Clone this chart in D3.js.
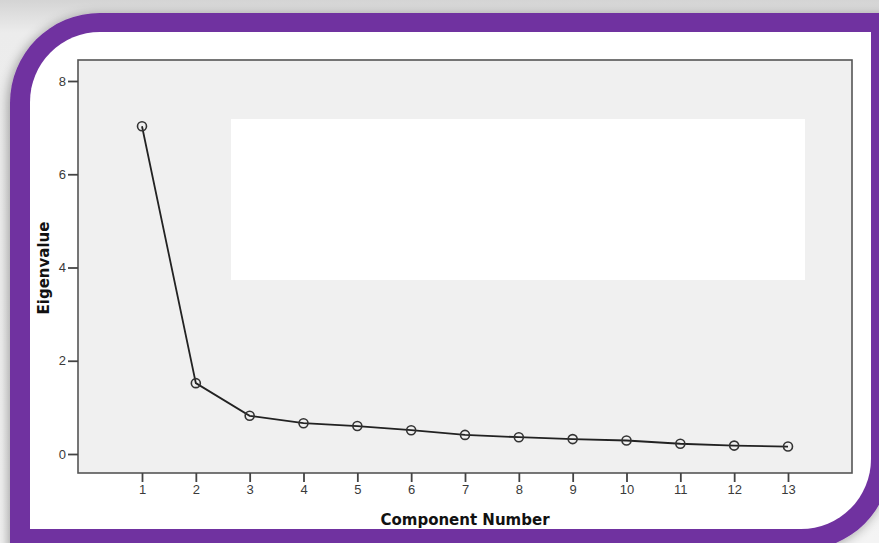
<!DOCTYPE html>
<html>
<head>
<meta charset="utf-8">
<script src="https://cdn.jsdelivr.net/npm/d3@7"></script>
<style>
  html, body { margin: 0; padding: 0; background: #ffffff; }
  svg { display: block; }
</style>
</head>
<body>
<svg id="chart" width="879" height="543"></svg>
<script>
// ---- data ----
const components = [1, 2, 3, 4, 5, 6, 7, 8, 9, 10, 11, 12, 13];
const eigenvalues = [7.03, 1.52, 0.82, 0.66, 0.60, 0.51, 0.41, 0.36, 0.32, 0.29, 0.22, 0.18, 0.16];
const yTicks = [0, 2, 4, 6, 8];
const xLabel = "Component Number";
const yLabel = "Eigenvalue";

const svg = d3.select("#chart");
const W = 879, H = 543;

// ---- background & frame ----
const defs = svg.append("defs");
const bg = defs.append("linearGradient").attr("id", "bg").attr("x1", 0).attr("y1", 0).attr("x2", 0).attr("y2", 1);
bg.append("stop").attr("offset", 0).attr("stop-color", "#d4d4d4");
bg.append("stop").attr("offset", 0.06).attr("stop-color", "#ececec");
bg.append("stop").attr("offset", 1).attr("stop-color", "#f4f4f4");
const sh = defs.append("filter").attr("id", "shadow").attr("x", -0.1).attr("y", -0.1).attr("width", 1.2).attr("height", 1.2);
sh.append("feGaussianBlur").attr("in", "SourceAlpha").attr("stdDeviation", 6);
sh.append("feOffset").attr("dx", -2).attr("dy", 2).attr("result", "b");
sh.append("feComponentTransfer").append("feFuncA").attr("type", "linear").attr("slope", 0.35);
const m = sh.append("feMerge");
m.append("feMergeNode");
m.append("feMergeNode").attr("in", "SourceGraphic");

svg.append("rect").attr("width", W).attr("height", H).attr("fill", "url(#bg)");

function frame(x0, y0, x1, y1, r) {
  return `M${x0},${y0 + r} A${r},${r} 0 0 1 ${x0 + r},${y0} L${x1},${y0} L${x1},${y1 - r} A${r},${r} 0 0 1 ${x1 - r},${y1} L${x0},${y1} Z`;
}
svg.append("path").attr("d", frame(10, 13, 891, 550, 90)).attr("fill", "#7030a0").attr("filter", "url(#shadow)");
svg.append("path").attr("d", frame(30, 32, 871, 529, 70)).attr("fill", "#ffffff");

// ---- plot ----
const plot = { left: 78, right: 852, top: 60, bottom: 473 };
const x = d3.scaleLinear().domain([1, 13]).range([142, 788]);
const y = d3.scaleLinear().domain([0, 8]).range([454, 81]);

svg.append("rect")
  .attr("x", plot.left).attr("y", plot.top)
  .attr("width", plot.right - plot.left).attr("height", plot.bottom - plot.top)
  .attr("fill", "#f0f0f0").attr("stroke", "#555").attr("stroke-width", 1.6);

// y axis
const yAxis = d3.axisLeft(y).tickValues(yTicks).tickSize(10).tickPadding(2).tickFormat(d3.format("d"));
const gy = svg.append("g").attr("transform", `translate(${plot.left},0)`).call(yAxis);
gy.select(".domain").remove();
gy.selectAll(".tick line").attr("stroke", "#444").attr("stroke-width", 1.8);
gy.selectAll(".tick text").attr("fill", "#3a3a3a").style("font", "13px 'Liberation Sans', Arial, sans-serif");

// x axis
const xAxis = d3.axisBottom(x).tickValues(components).tickSize(9).tickPadding(3).tickFormat(d3.format("d"));
const gx = svg.append("g").attr("transform", `translate(0,${plot.bottom})`).call(xAxis);
gx.select(".domain").remove();
gx.selectAll(".tick line").attr("stroke", "#444").attr("stroke-width", 1.8);
gx.selectAll(".tick text").attr("fill", "#3a3a3a").style("font", "13px 'Liberation Sans', Arial, sans-serif");

// line
const line = d3.line().x((d, i) => x(components[i])).y(d => y(d));
svg.append("path").datum(eigenvalues).attr("d", line)
  .attr("fill", "none").attr("stroke", "#222").attr("stroke-width", 1.8);

svg.selectAll("circle.pt").data(eigenvalues).enter().append("circle")
  .attr("class", "pt")
  .attr("cx", (d, i) => x(components[i])).attr("cy", d => y(d))
  .attr("r", 4.5).attr("fill", "none").attr("stroke", "#333").attr("stroke-width", 1.6);

// overlay white box
svg.append("rect").attr("x", 231).attr("y", 119).attr("width", 574).attr("height", 161).attr("fill", "#ffffff");

// axis titles
svg.append("text").attr("x", 465).attr("y", 525).attr("text-anchor", "middle")
  .style("font", "bold 15px 'DejaVu Sans', Verdana, sans-serif").attr("fill", "#111").text(xLabel);
svg.append("text").attr("transform", "translate(49,268) rotate(-90)").attr("text-anchor", "middle")
  .style("font", "bold 15px 'DejaVu Sans', Verdana, sans-serif").attr("fill", "#111").text(yLabel);
</script>
</body>
</html>
